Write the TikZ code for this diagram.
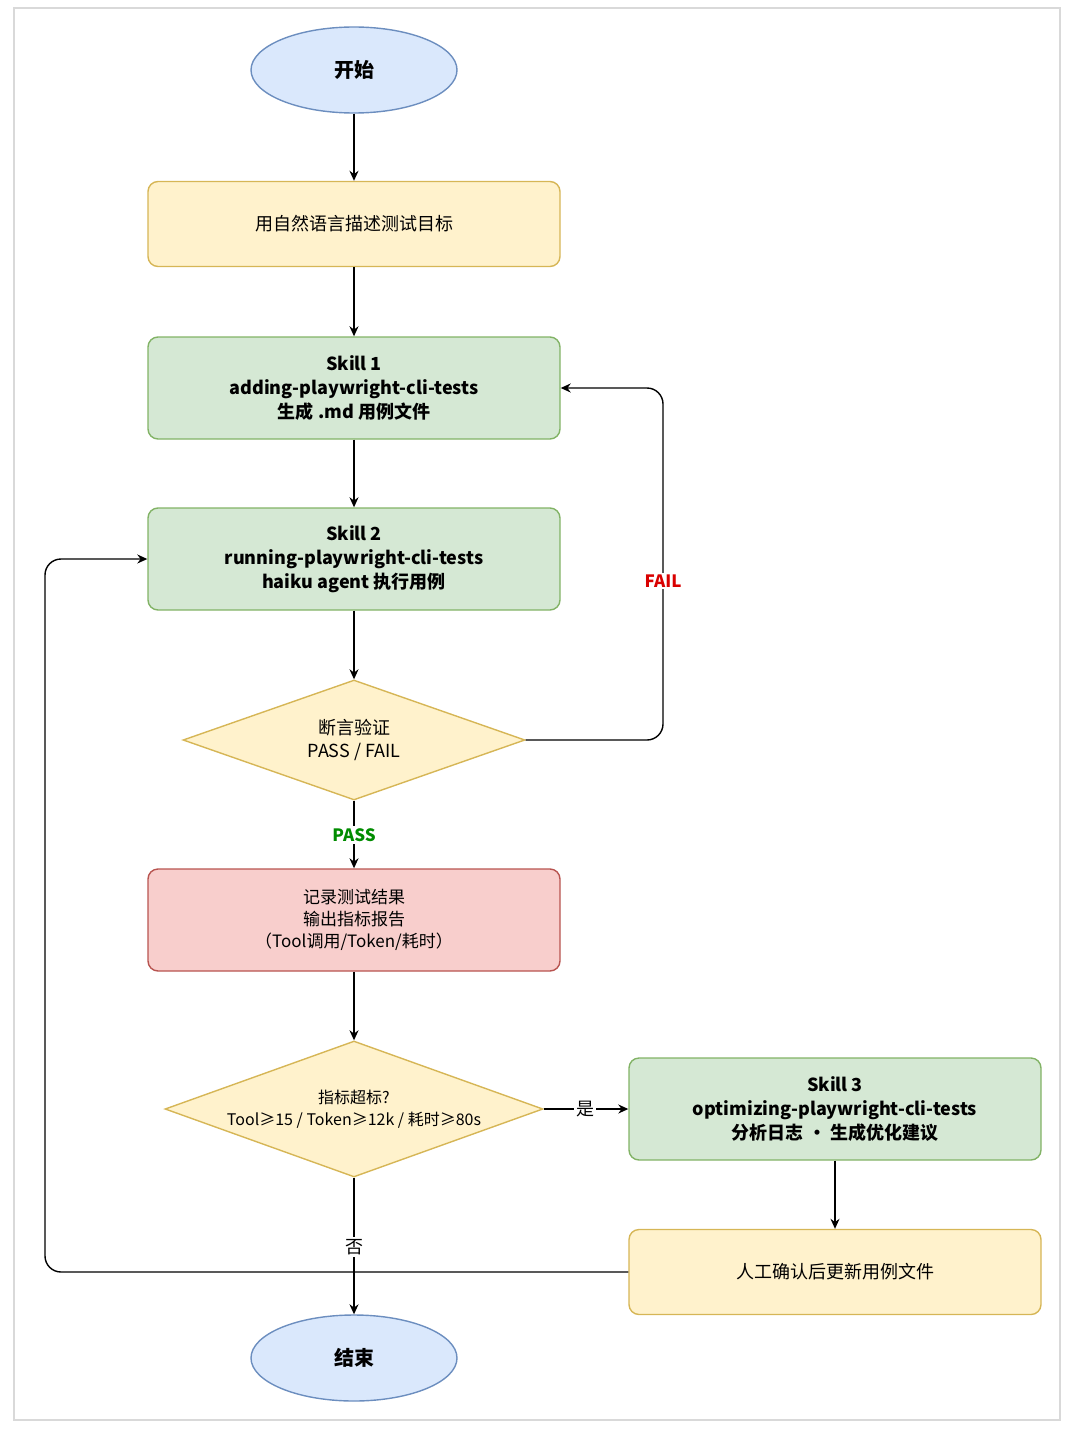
\documentclass[tikz,border=0pt]{standalone}
\usepackage{fontspec}
\setmainfont{Noto Sans CJK SC}
\usetikzlibrary{shapes.geometric,arrows.meta}
\definecolor{bfill}{HTML}{DAE8FC}\definecolor{bline}{HTML}{6C8EBF}
\definecolor{yfill}{HTML}{FFF2CC}\definecolor{yline}{HTML}{D6B656}
\definecolor{gfill}{HTML}{D5E8D4}\definecolor{gline}{HTML}{82B366}
\definecolor{rfill}{HTML}{F8CECC}\definecolor{rline}{HTML}{B85450}
\begin{document}
\begin{tikzpicture}[x=0.5pt,y=-0.5pt,
  base/.style={draw,line width=0.7pt,align=center,font=\fontsize{9}{11.5}\selectfont,inner sep=0pt},
  term/.style={base,ellipse,fill=bfill,draw=bline,minimum width=103pt,minimum height=43pt,font=\fontsize{10}{12}\selectfont\bfseries},
  box/.style={base,rounded corners=5pt,minimum width=206pt},
  ybox/.style={box,fill=yfill,draw=yline,minimum height=42.5pt},
  gbox/.style={box,fill=gfill,draw=gline,minimum height=51pt,font=\fontsize{9}{12}\selectfont\bfseries},
  rbox/.style={box,fill=rfill,draw=rline,minimum height=51pt,font=\fontsize{8.5}{11}\selectfont},
  dia/.style={base,diamond,fill=yfill,draw=yline,aspect=2.85},
  arr/.style={-{Stealth[length=5pt,width=4.5pt]},line width=0.7pt},
  lab/.style={fill=white,inner sep=1pt,font=\fontsize{8.5}{10}\selectfont\bfseries}]
\useasboundingbox (0,0) rectangle (1080,1434);
\draw[black!15,line width=0.6pt] (14,8) rectangle (1060,1420);
\node[term] (start) at (354,70) {开始};
\node[ybox] (desc) at (354,224) {用自然语言描述测试目标};
\node[gbox] (s1) at (354,388) {Skill 1\\adding-playwright-cli-tests\\生成 .md 用例文件};
\node[gbox] (s2) at (354,559) {Skill 2\\running-playwright-cli-tests\\haiku agent 执行用例};
\node[dia,minimum width=171pt,minimum height=60pt] (d1) at (354,740) {断言验证\\PASS / FAIL};
\node[rbox] (rec) at (354,920) {记录测试结果\\输出指标报告\\（Tool调用/Token/耗时）};
\node[dia,minimum width=189pt,minimum height=68pt,font=\fontsize{8}{11}\selectfont] (d2) at (354,1109) {指标超标?\\Tool≥15 / Token≥12k / 耗时≥80s};
\node[gbox] (s3) at (835,1109) {Skill 3\\optimizing-playwright-cli-tests\\分析日志 · 生成优化建议};
\node[ybox] (man) at (835,1272) {人工确认后更新用例文件};
\node[term] (end) at (354,1358) {结束};
\coordinate (f1) at (663,740); \coordinate (f2) at (663,388);
\coordinate (m1) at (45,1272); \coordinate (m2) at (45,559);
\draw[arr] (start) -- (desc);
\draw[arr] (desc) -- (s1);
\draw[arr] (s1) -- (s2);
\draw[arr] (s2) -- (d1);
\draw[arr,rounded corners=8pt] (d1.east) -- (f1) -- (f2) -- (s1.east);
\node[lab,text=red!85!black] (fail) at (663,581) {FAIL};
\draw[arr] (d1) -- (rec);
\node[lab,text=green!55!black] (pass) at (354,835) {PASS};
\draw[arr] (rec) -- (d2);
\draw[arr] (d2.east) -- (s3.west);
\node[lab,font=\fontsize{9}{10}\selectfont] (yes) at (585,1109) {是};
\draw[arr] (s3) -- (man);
\draw[arr,rounded corners=8pt] (man.west) -- (m1) -- (m2) -- (s2.west);
\draw[arr] (d2.south) -- (end);
\node[lab,font=\fontsize{9}{10}\selectfont] (no) at (354,1247) {否};
\end{tikzpicture}
\end{document}
